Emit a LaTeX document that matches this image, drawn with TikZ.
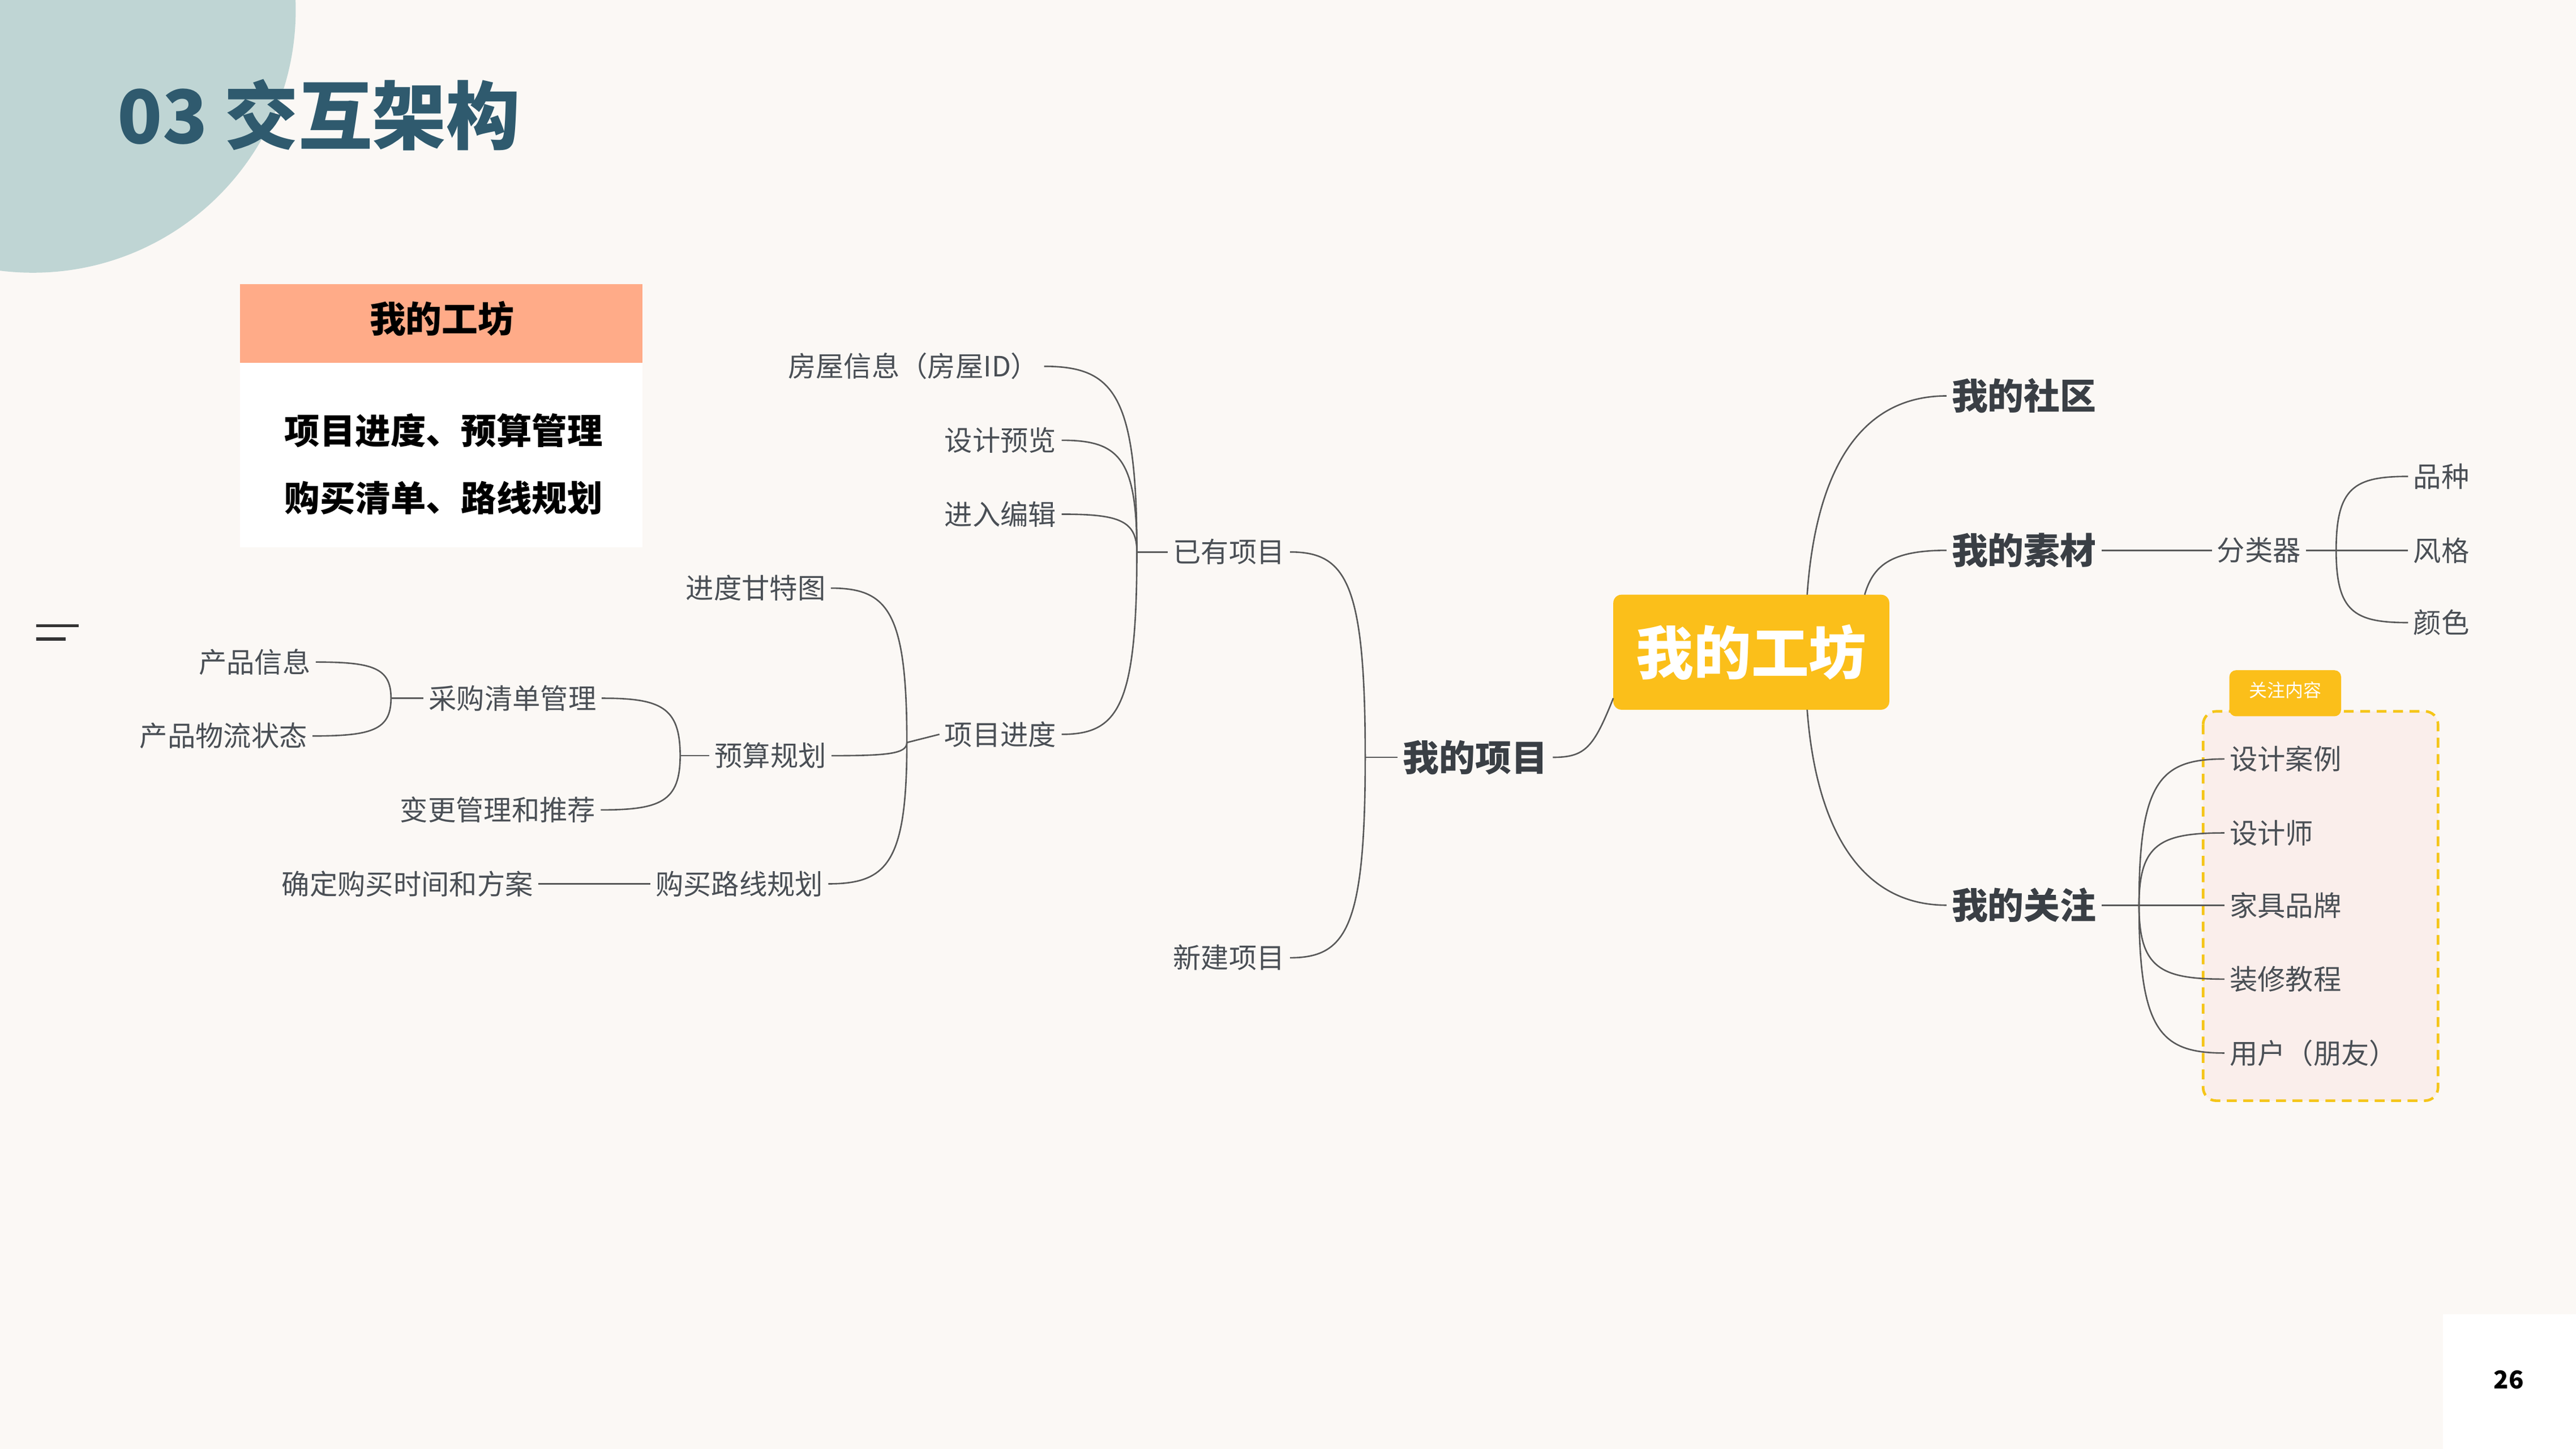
\documentclass[tikz,border=0pt]{standalone}
\usepackage{fontspec}
\setmainfont{Noto Sans CJK SC}
\usetikzlibrary{calc,shadows}
\definecolor{bg}{HTML}{FBF8F5}
\definecolor{teal}{HTML}{2F5A6E}
\definecolor{circ}{HTML}{BFD5D4}
\definecolor{peach}{HTML}{FFAB88}
\definecolor{gold}{HTML}{FBBF1A}
\definecolor{dash}{HTML}{F5C518}
\definecolor{txt}{HTML}{4A4F55}
\definecolor{dark}{HTML}{3A3F45}
\definecolor{pinkbg}{HTML}{FAEEEB}
\tikzset{
  leaf/.style={font=\fontsize{17}{20}\selectfont, text=txt, inner sep=3pt},
  major/.style={font=\fontsize{22}{26}\selectfont\bfseries, text=dark, inner sep=3pt},
  conn/.style={draw=black!65, line width=0.9pt},
}
\newcommand{\lconn}[2]{\draw[conn] (#1) .. controls ($(#1)!0.85!(#1 |- #2.east)$) and ($(#2.east)!0.75!(#1 |- #2.east)$) .. (#2.east);}
\newcommand{\rconn}[2]{\draw[conn] (#1) .. controls ($(#1)!0.85!(#1 |- #2.west)$) and ($(#2.west)!0.75!(#1 |- #2.west)$) .. (#2.west);}
\begin{document}
\begin{tikzpicture}[x=1pt,y=-1pt]
\fill[bg] (0,0) rectangle (1568,882);
\useasboundingbox (0,0) rectangle (1568,882);
\begin{scope}
\clip (0,0) rectangle (1568,882);
\fill[circ] (20,6) circle (160);
\end{scope}
\node[anchor=west, text=teal, font=\fontsize{45}{50}\selectfont\bfseries] (title) at (68,70) {03 交互架构};
% card
\node[fill=white, minimum width=245, minimum height=160, anchor=north west, drop shadow={opacity=0.18,shadow xshift=0pt,shadow yshift=0pt}] (card) at (146,173) {};
\fill[peach] (146,173) rectangle (391,221);
\node[font=\fontsize{22}{24}\selectfont\bfseries] (cardh) at (269,194) {我的工坊};
\node[font=\fontsize{21.5}{24}\selectfont\bfseries] (c1) at (270,262) {项目进度、预算管理};
\node[font=\fontsize{21.5}{24}\selectfont\bfseries] (c2) at (270,303) {购买清单、路线规划};
% icon
\draw[line width=1.8pt, black!80] (22,381) -- (48,381);
\draw[line width=1.8pt, black!80] (22,389) -- (40,389);
% page number
\fill[white] (1487,800) rectangle (1568,882);
\node[font=\fontsize{15}{18}\selectfont\bfseries] (pg) at (1527,840) {26};
% center
\node[fill=gold, rounded corners=5pt, minimum width=168, minimum height=70, text=white, font=\fontsize{35}{40}\selectfont\bfseries] (cw) at (1066,397) {我的工坊};
% right majors
\node[major] (she) at (1232,241) {我的社区};
\node[major] (suc) at (1232,335) {我的素材};
\node[major] (gz) at (1232,551) {我的关注};
\node[major] (xm) at (898,461) {我的项目};
\coordinate (jtop1) at (1100,362);
\coordinate (jtop2) at (1135,362);
\coordinate (jbot) at (1100,432);
\coordinate (jleft) at (982,425);
\draw[conn] (jtop1) .. controls (1105,290) and (1130,241) .. (she.west);
\draw[conn] (jtop2) .. controls (1140,345) and (1150,335) .. (suc.west);
\draw[conn] (jbot) .. controls (1105,500) and (1130,551) .. (gz.west);
\draw[conn] (jleft) .. controls (970,455) and (965,461) .. (xm.east);
% materials
\node[leaf] (flq) at (1375,335) {分类器};
\draw[conn] (suc.east) -- (flq.west);
\coordinate (jf) at (1422,335);
\draw[conn] (flq.east) -- (jf);
\node[leaf] (pz) at (1486,290) {品种};
\node[leaf] (fg) at (1486,335) {风格};
\node[leaf] (ys) at (1486,379) {颜色};
\rconn{jf}{pz}\rconn{jf}{fg}\rconn{jf}{ys}
% attention box
\filldraw[fill=pinkbg, draw=dash, dashed, dash pattern=on 6pt off 4pt, line width=1.6pt, rounded corners=8pt] (1341,433) rectangle (1484,670);
\fill[gold, rounded corners=4pt] (1357,408) rectangle (1425,436);
\node[text=white, font=\fontsize{11}{13}\selectfont\itshape] (tag) at (1391,420) {关注内容};
\node[leaf, anchor=west] (a1) at (1354,462) {设计案例};
\node[leaf, anchor=west] (a2) at (1354,507) {设计师};
\node[leaf, anchor=west] (a3) at (1354,551) {家具品牌};
\node[leaf, anchor=west] (a4) at (1354,596) {装修教程};
\node[leaf, anchor=west] (a5) at (1354,641) {用户（朋友）};
\coordinate (jg) at (1302,551);
\draw[conn] (gz.east) -- (jg);
\rconn{jg}{a1}\rconn{jg}{a2}\rconn{jg}{a3}\rconn{jg}{a4}\rconn{jg}{a5}
% projects
\node[leaf] (yy) at (748,336) {已有项目};
\node[leaf] (xj) at (748,583) {新建项目};
\coordinate (jx) at (831,461);
\draw[conn] (xm.west) -- (jx);
\lconn{jx}{yy}\lconn{jx}{xj}
\node[leaf] (fw) at (556,223) {房屋信息（房屋ID）};
\node[leaf] (sj) at (609,268) {设计预览};
\node[leaf] (jr) at (609,313) {进入编辑};
\node[leaf] (jd) at (609,447) {项目进度};
\coordinate (jy) at (692,336);
\draw[conn] (yy.west) -- (jy);
\lconn{jy}{fw}\lconn{jy}{sj}\lconn{jy}{jr}\lconn{jy}{jd}
\node[leaf] (gt) at (460,358) {进度甘特图};
\node[leaf] (ys2) at (469,460) {预算规划};
\node[leaf] (lx) at (450,538) {购买路线规划};
\coordinate (jj) at (552,452);
\draw[conn] (jd.west) -- (jj);
\lconn{jj}{gt}\lconn{jj}{ys2}\lconn{jj}{lx}
\node[leaf] (cg) at (312,425) {采购清单管理};
\node[leaf] (bg2) at (303,493) {变更管理和推荐};
\coordinate (jb) at (414,460);
\draw[conn] (ys2.west) -- (jb);
\lconn{jb}{cg}\lconn{jb}{bg2}
\node[leaf] (cp) at (155,403) {产品信息};
\node[leaf] (wl) at (136,448) {产品物流状态};
\coordinate (jc) at (238,425);
\draw[conn] (cg.west) -- (jc);
\lconn{jc}{cp}\lconn{jc}{wl}
\node[leaf] (qd) at (248,538) {确定购买时间和方案};
\draw[conn] (lx.west) -- (qd.east);
\end{tikzpicture}
\end{document}
